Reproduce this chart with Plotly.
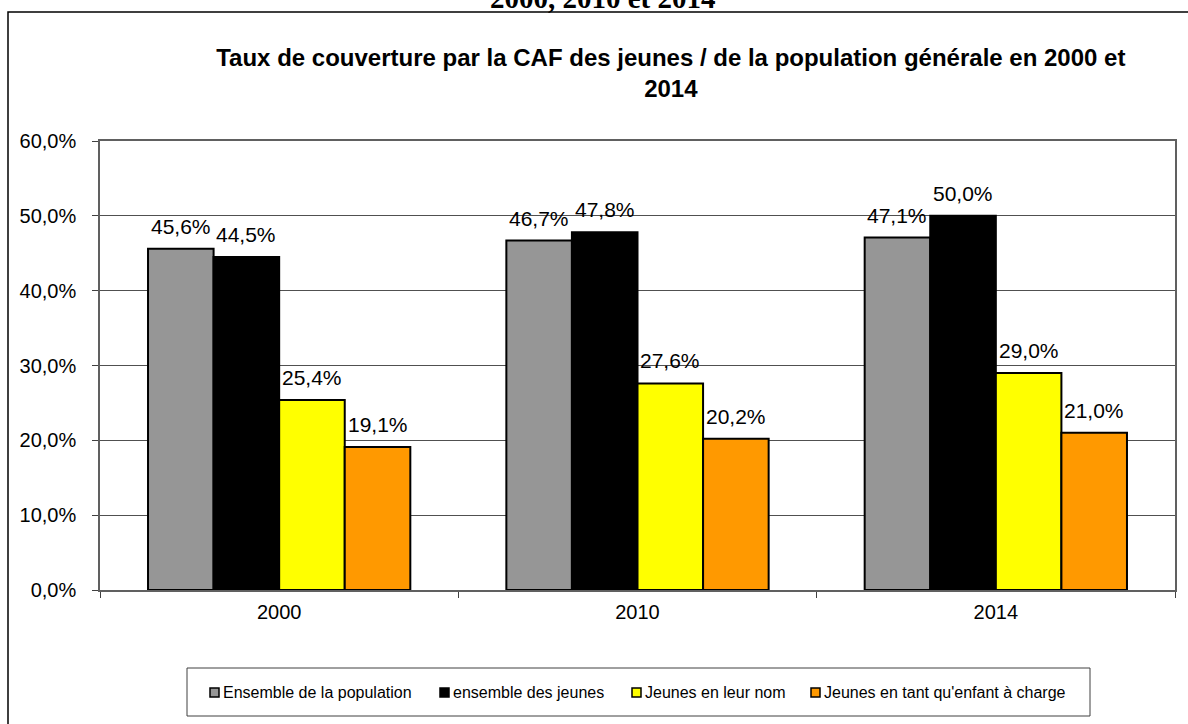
import plotly.graph_objects as go

years = ['2000', '2010', '2014']
population = [0.456, 0.467, 0.471]
jeunes = [0.445, 0.478, 0.500]
jeunes_nom = [0.254, 0.276, 0.290]
jeunes_charge = [0.191, 0.202, 0.210]

series = [
    ('Ensemble de la population', population, '#969696'),
    ('ensemble des jeunes', jeunes, '#000000'),
    ('Jeunes en leur nom', jeunes_nom, '#FFFF00'),
    ("Jeunes en tant qu'enfant à charge", jeunes_charge, '#FF9900'),
]

# plot area in pixels, used to place the hand-made legend
W, H = 1188, 724
L, R, T, B = 100, 13, 141, 134
PW, PH = W - L - R, H - T - B
BAR_PX = PW / 3 * (1 - 0.268) / 4

def px_x(px):
    return (px - L) / PW

def px_y(py):
    return (H - B - py) / PH

fig = go.Figure()

for i, (name, vals, color) in enumerate(series):
    fig.add_trace(go.Bar(
        x=years, y=vals,
        name=name,
        marker=dict(color=color, line=dict(color='black', width=2)),
        showlegend=False,
    ))
    # value labels, sitting a bit higher above the bars than plotly's own
    for j, v in enumerate(vals):
        fig.add_annotation(
            x=j, y=v, text=f'{v * 100:.1f}%'.replace('.', ','),
            xshift=(i - 1.5) * BAR_PX, yshift=9,
            xanchor='center', yanchor='bottom', showarrow=False,
            font=dict(size=21, color='black'),
        )

# outer frame of the chart object (partially cut by the page)
fig.add_shape(type='rect', xref='paper', yref='paper',
              x0=px_x(8), x1=1.3, y0=-0.5, y1=px_y(12),
              line=dict(color='black', width=1.5), layer='below')

# heading of the page, clipped at the top
fig.add_annotation(text='<b>2000, 2010 et 2014</b>', xref='paper', yref='paper',
                   x=px_x(603), y=px_y(16), xanchor='center', yanchor='bottom',
                   showarrow=False,
                   font=dict(family='Liberation Serif, Times New Roman, serif', size=29, color='black'))

# legend drawn by hand: small squares right before each label
legend_marker_px = [210, 440, 632, 811]
fig.add_shape(type='rect', xref='paper', yref='paper',
              x0=px_x(187), x1=px_x(1090), y0=px_y(716), y1=px_y(668),
              line=dict(color='#404040', width=1), fillcolor='white')
for (name, vals, color), mx in zip(series, legend_marker_px):
    fig.add_shape(type='rect', xref='paper', yref='paper',
                  x0=px_x(mx), x1=px_x(mx + 9), y0=px_y(697), y1=px_y(688),
                  line=dict(color='black', width=1.5), fillcolor=color)
    fig.add_annotation(text=name, xref='paper', yref='paper',
                       x=px_x(mx + 11), y=px_y(692), xanchor='left', yanchor='middle',
                       showarrow=False, font=dict(size=16, color='black'))

fig.update_layout(
    width=W, height=H,
    margin=dict(l=L, r=R, t=T, b=B),
    paper_bgcolor='white',
    plot_bgcolor='white',
    separators=', ',
    font=dict(family='Liberation Sans, Arial, sans-serif', color='black'),
    barmode='group',
    bargap=0.268,
    bargroupgap=0,
    title=dict(
        text='<b>Taux de couverture par la CAF des jeunes / de la population générale en 2000 et<br>2014</b>',
        x=0.531, xref='paper', xanchor='center',
        y=1 - 66 / H, yanchor='top',
        font=dict(size=24, color='black'),
    ),
    showlegend=False,
    xaxis=dict(
        type='category',
        showline=True, linecolor='#606060', linewidth=1.5, mirror=True,
        ticks='outside', tickson='boundaries', ticklen=6, tickcolor='#404040',
        ticklabelstandoff=3,
        tickfont=dict(size=20, color='black'),
        showgrid=False,
    ),
    yaxis=dict(
        range=[0, 0.6], dtick=0.1, tickformat='.1%',
        showline=True, linecolor='#606060', linewidth=1.5, mirror=True,
        ticks='outside', ticklen=6, tickcolor='#404040',
        ticklabelstandoff=12,
        showgrid=True, gridcolor='#505050', gridwidth=1,
        tickfont=dict(size=20, color='black'),
        zeroline=False,
    ),
)

# page body has a default margin; remove it so the figure fills the window
fig.write_html('out.html', config={'displayModeBar': False},
               post_script="document.body.style.margin='0';")
